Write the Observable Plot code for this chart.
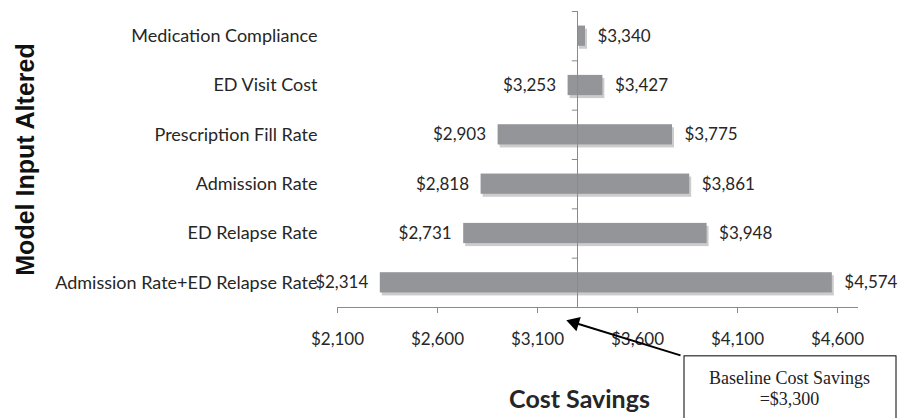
<!DOCTYPE html>
<html>
<head>
<meta charset="utf-8">
<script src="https://cdn.jsdelivr.net/npm/d3@7"></script>
<script src="https://cdn.jsdelivr.net/npm/@observablehq/plot@0.6"></script>
<style>
  html, body { margin: 0; padding: 0; background: #fff; }
  #chart { width: 898px; height: 418px; overflow: hidden; }
</style>
</head>
<body>
<div id="chart"></div>
<script>
// ---- data ----
const categories = [
  "Medication Compliance",
  "ED Visit Cost",
  "Prescription Fill Rate",
  "Admission Rate",
  "ED Relapse Rate",
  "Admission Rate+ED Relapse Rate"
];
const lowValues  = [3300, 3253, 2903, 2818, 2731, 2314];
const highValues = [3340, 3427, 3775, 3861, 3948, 4574];
const baseline = 3300;
const xTicks = [2100, 2600, 3100, 3600, 4100, 4600];
const xDomain = [2100, 4700];
const yTitle = "Model Input Altered";
const xTitle = "Cost Savings";
const noteLines = ["Baseline Cost Savings", "=$3,300"];

// ---- build table ----
const rows = categories.map((category, i) => ({i, category, low: lowValues[i], high: highValues[i]}));
const money = v => "$" + d3.format(",")(v);
const boundaries = d3.range(categories.length).map(i => i - 0.5);

const textColor = "#262626";
const axisColor = "#8a8a8a";
const barColor = "#939598";
const half = 0.205; // half bar thickness in category units

// annotation geometry (in data units)
const note = {
  bx1: 3835, bx2: 4895, by1: 6.49, by2: 8.2,
  tx: 4360, ty: [6.93, 7.35],
  ax1: 3815, ay1: 6.47, ax2: 3285, ay2: 5.81
};

const chart = Plot.plot({
  width: 898,
  height: 418,
  marginLeft: 337,
  marginRight: 41,
  marginTop: 11,
  marginBottom: 111,
  style: {fontFamily: "Lato, sans-serif", color: textColor, background: "#fff", overflow: "visible"},
  x: {domain: xDomain},
  y: {type: "linear", domain: [categories.length - 0.5, -0.5]},
  marks: [
    // bar shadows
    Plot.rectX(rows, {x1: "low", x2: "high", y1: d => d.i - half, y2: d => d.i + half,
      dx: 2, dy: 3, fill: "#000", fillOpacity: 0.2, ariaLabel: "bar shadow"}),
    // bars
    Plot.rectX(rows, {x1: "low", x2: "high", y1: d => d.i - half, y2: d => d.i + half, fill: barColor}),
    // baseline vertical axis and its ticks
    Plot.ruleX([baseline], {stroke: axisColor, strokeWidth: 1}),
    Plot.ruleY(boundaries, {x1: baseline - 26, x2: baseline, stroke: axisColor}),
    // x axis line
    Plot.frame({anchor: "bottom", stroke: axisColor}),
    Plot.axisX({ticks: xTicks, tickFormat: money, tickSize: 6, tickPadding: 19,
      fontSize: 17, stroke: axisColor, fill: textColor}),
    // category labels
    Plot.axisY(d3.range(categories.length), {tickFormat: i => categories[i], tickSize: 0,
      tickPadding: 20, fontSize: 18, fill: textColor}),
    // value labels
    Plot.text(rows.filter(d => d.low < baseline), {x: "low", y: "i", text: d => money(d.low),
      textAnchor: "end", dx: -12, fontSize: 17, fill: textColor}),
    Plot.text(rows, {x: "high", y: "i", text: d => money(d.high),
      textAnchor: "start", dx: 12, fontSize: 17, fill: textColor}),
    // titles
    Plot.text([yTitle], {frameAnchor: "left", textAnchor: "middle", dx: -312, rotate: -90, fontSize: 25,
      fontWeight: "bold", fontFamily: "Liberation Sans, Arial, sans-serif", fill: "#111"}),
    Plot.text([xTitle], {frameAnchor: "bottom", dx: -18, dy: 100, fontSize: 25,
      fontWeight: "bold", fontFamily: "Lato, sans-serif", fill: textColor}),
    // annotation box, text and arrow
    Plot.rect([note], {x1: "bx1", x2: "bx2", y1: "by1", y2: "by2", fill: "#fff", stroke: "#000", strokeWidth: 1}),
    Plot.text(noteLines, {x: note.tx, y: (d, k) => note.ty[k], text: d => d, fontSize: 18,
      fontFamily: "Liberation Serif, Times New Roman, serif", fill: "#222"}),
    Plot.link([note], {x1: "ax1", y1: "ay1", x2: "ax2", y2: "ay2", stroke: "#000", strokeWidth: 2}),
    Plot.dot([note], {x: "ax2", y: "ay2", symbol: "triangle", r: 5.5, fill: "#000", rotate: -73})
  ]
});

// soft blur for the bar shadows
const svg = d3.select(chart);
const defs = svg.insert("defs", ":first-child");
defs.append("filter").attr("id", "barShadow").attr("x", "-10%").attr("y", "-50%")
  .attr("width", "120%").attr("height", "200%")
  .append("feGaussianBlur").attr("stdDeviation", 1.6);
svg.selectAll('g[aria-label="bar shadow"]').attr("filter", "url(#barShadow)");

document.getElementById("chart").appendChild(chart);
</script>
</body>
</html>
